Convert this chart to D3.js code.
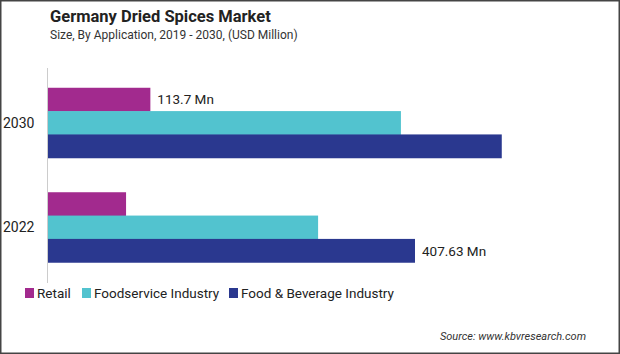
<!DOCTYPE html>
<meta charset="utf-8">
<style>
body { margin: 0; }
svg { display: block; font-family: "Roboto", sans-serif; }
</style>
<svg width="620" height="354"></svg>
<script src="https://cdn.jsdelivr.net/npm/d3@7"></script>
<script>
var years = ["2030", "2022"];
var series = ["Retail", "Foodservice Industry", "Food & Beverage Industry"];
var colors = ["#a22a8e", "#52c3cf", "#2a388f"];
// values per year, in series order (USD Million)
var values2030 = [113.7, 392, 504];
var values2022 = [86.7, 300, 407.63];
var labels2030 = ["113.7 Mn", null, null];
var labels2022 = [null, null, "407.63 Mn"];

var svg = d3.select("svg"),
    width = +svg.attr("width"),
    height = +svg.attr("height");

svg.append("rect")
  .attr("x", 0.75).attr("y", 0.75)
  .attr("width", width - 1.5).attr("height", height - 1.5)
  .attr("fill", "#fff").attr("stroke", "#444").attr("stroke-width", 1.5);

var x = d3.scaleLinear().domain([0, 407.63]).range([48, 415]);
var y = d3.scaleBand().domain(years).range([70, 280]).paddingInner(0.33).paddingOuter(0.17);
var ySub = d3.scaleBand().domain(series).range([0, y.bandwidth()]);

var data = [
  { year: "2030", vals: values2030, labels: labels2030 },
  { year: "2022", vals: values2022, labels: labels2022 }
];

var g = svg.selectAll(".grp").data(data).enter().append("g")
  .attr("transform", function(d) { return "translate(0," + y(d.year) + ")"; });

g.selectAll("rect").data(function(d) { return d.vals; }).enter().append("rect")
  .attr("x", x(0))
  .attr("y", function(d, i) { return ySub(series[i]); })
  .attr("width", function(d) { return x(d) - x(0); })
  .attr("height", ySub.bandwidth() + 0.5)
  .attr("fill", function(d, i) { return colors[i]; });

g.selectAll(".lab").data(function(d) { return d.vals.map(function(v, i) { return { v: v, l: d.labels[i], i: i }; }); })
  .enter().filter(function(d) { return d.l; }).append("text")
  .attr("x", function(d) { return x(d.v) + 7; })
  .attr("y", function(d) { return ySub(series[d.i]) + ySub.bandwidth() / 2 + 5; })
  .attr("font-size", 13.5).attr("fill", "#222")
  .text(function(d) { return d.l; });

// axis line
svg.append("line").attr("x1", 47.5).attr("x2", 47.5).attr("y1", 68).attr("y2", 283)
  .attr("stroke", "#ccc").attr("stroke-width", 1);

svg.selectAll(".ylab").data(years).enter().append("text")
  .attr("x", 3).attr("y", function(d) { return y(d) + y.bandwidth() / 2 + 5; })
  .attr("font-size", 14).attr("fill", "#222").text(function(d) { return d; });

svg.append("text").attr("x", 50).attr("y", 22)
  .attr("font-weight", "bold")
  .attr("font-size", 16.5).attr("fill", "#222").text("Germany Dried Spices Market");
svg.append("text").attr("x", 50).attr("y", 39)
  .attr("font-size", 12).attr("fill", "#333").text("Size, By Application, 2019 - 2030, (USD Million)");

// legend
var legX = [25, 82, 229];
var leg = svg.selectAll(".leg").data(series).enter().append("g")
  .attr("transform", function(d, i) { return "translate(" + legX[i] + ",287)"; });
leg.append("rect").attr("width", 9).attr("height", 10).attr("y", 1)
  .attr("fill", function(d, i) { return colors[i]; });
leg.append("text").attr("x", 12).attr("y", 11).attr("font-size", 13.5).attr("fill", "#222")
  .text(function(d) { return d; });

svg.append("text").attr("x", 586).attr("y", 340).attr("text-anchor", "end")
  .attr("font-size", 11).attr("font-style", "italic").attr("fill", "#333")
  .text("Source: www.kbvresearch.com");
</script>
